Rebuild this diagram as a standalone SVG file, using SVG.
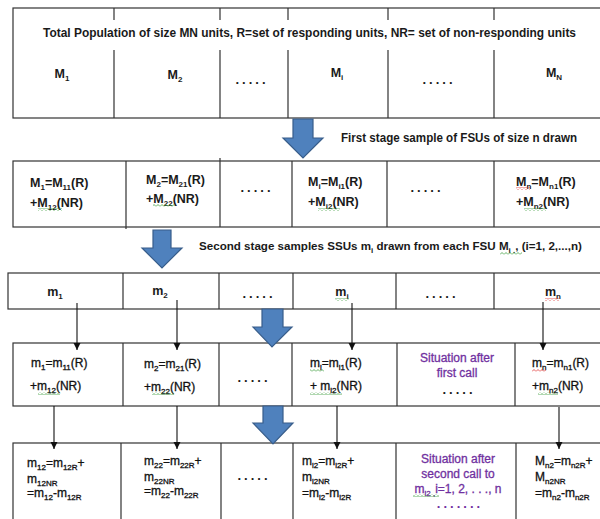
<svg xmlns="http://www.w3.org/2000/svg" width="600" height="519" viewBox="0 0 600 519">
<style>
.tb{fill:#fff;stroke:#333;stroke-width:1.2}
.dv{stroke:#333;stroke-width:1.2}
.b{font-family:'Liberation Sans',Arial,sans-serif;font-weight:bold;font-size:12.5px;fill:#1a1a1a}
.r{font-family:'Liberation Sans',Arial,sans-serif;font-size:12px;fill:#111;stroke:#111;stroke-width:0.3}
.p{fill:#7030A0;stroke:#7030A0}
.c{text-anchor:middle}
.s{font-size:8px}
.dots{font-family:'Liberation Sans',Arial,sans-serif;font-weight:bold;font-size:13px;fill:#1a1a1a;letter-spacing:3px;text-anchor:middle}
.blk{fill:#4F81BD;stroke:#385D8A;stroke-width:1.2}
.ln{stroke:#111;stroke-width:1.1;fill:none;marker-end:url(#ah)}
</style>
<defs>
<marker id="ah" markerUnits="userSpaceOnUse" markerWidth="8" markerHeight="8" refX="7" refY="4" orient="auto">
<path d="M0,0.5 L7,4 L0,7.5 Z" fill="#111"/>
</marker>
<pattern id="wg" width="4" height="3" patternUnits="userSpaceOnUse"><path d="M0,2.5 L2,0.5 L4,2.5" fill="none" stroke="#3a9a3a" stroke-width="0.8"/></pattern>
<pattern id="wr" width="4" height="3" patternUnits="userSpaceOnUse"><path d="M0,2.5 L2,0.5 L4,2.5" fill="none" stroke="#e03030" stroke-width="0.8"/></pattern>
</defs>

<g id="population">
<rect class="tb" x="13" y="8" width="590" height="110"/>
<path class="dv" d="M114,8V20M114,50V118M220,8V20M220,50V118M288,8V20M288,50V118M388,8V20M388,50V118M494,8V20M494,50V118"/>
<text class="b" x="43" y="37" textLength="533" lengthAdjust="spacingAndGlyphs">Total Population of size MN units, R=set of responding units, NR= set of non-responding units</text>
<text class="b c" x="62" y="78">M<tspan class="s" dy="3">1</tspan></text>
<text class="b c" x="175" y="79">M<tspan class="s" dy="3">2</tspan></text>
<text class="dots" x="252" y="84">.....</text>
<text class="b c" x="337" y="77">M<tspan class="s" dy="3">i</tspan></text>
<text class="dots" x="439" y="84">.....</text>
<text class="b c" x="554" y="77">M<tspan class="s" dy="3">N</tspan></text>
</g>

<g id="fsu-sample">
<rect class="tb" x="13" y="161" width="590" height="66"/>
<path class="dv" d="M126,161V229M220,158V227M292,161V227M387,161V227M494,161V227"/>
<text class="b" x="30" y="187">M<tspan class="s" dy="3">1</tspan><tspan dy="-3">=M</tspan><tspan class="s" dy="3">11</tspan><tspan dy="-3">(R)</tspan></text>
<text class="b" x="30" y="207">+M<tspan class="s" dy="3">12</tspan><tspan dy="-3">(NR)</tspan></text>
<text class="b" x="146" y="184">M<tspan class="s" dy="3">2</tspan><tspan dy="-3">=M</tspan><tspan class="s" dy="3">21</tspan><tspan dy="-3">(R)</tspan></text>
<text class="b" x="146" y="203">+M<tspan class="s" dy="3">22</tspan><tspan dy="-3">(NR)</tspan></text>
<text class="dots" x="257" y="192">.....</text>
<text class="b" x="308" y="186">M<tspan class="s" dy="3">i</tspan><tspan dy="-3">=M</tspan><tspan class="s" dy="3">i1</tspan><tspan dy="-3">(R)</tspan></text>
<text class="b" x="308" y="206">+M<tspan class="s" dy="3">i2</tspan><tspan dy="-3">(NR)</tspan></text>
<text class="dots" x="427" y="192">.....</text>
<text class="b" x="516" y="186">M<tspan class="s" dy="3">n</tspan><tspan dy="-3">=M</tspan><tspan class="s" dy="3">n1</tspan><tspan dy="-3">(R)</tspan></text>
<text class="b" x="516" y="206">+M<tspan class="s" dy="3">n2</tspan><tspan dy="-3">(NR)</tspan></text>
</g>

<g id="ssu-sample">
<rect class="tb" x="8" y="273" width="595" height="36"/>
<path class="dv" d="M123,273V309M219,273V309M293,273V309M396,273V309M494,273V309"/>
<text class="b c" x="55" y="296">m<tspan class="s" dy="3">1</tspan></text>
<text class="b c" x="160" y="295">m<tspan class="s" dy="3">2</tspan></text>
<text class="dots" x="259" y="298">.....</text>
<text class="b c" x="342" y="296">m<tspan class="s" dy="3">i</tspan></text>
<text class="dots" x="442" y="298">.....</text>
<text class="b c" x="553" y="296">m<tspan class="s" dy="3">n</tspan></text>
</g>

<g id="first-call">
<rect class="tb" x="13" y="343" width="590" height="63"/>
<path class="dv" d="M123,343V406M219,343V406M292,343V406M397,343V406M515,343V406"/>
<text class="r" x="31" y="367">m<tspan class="s" dy="3">1</tspan><tspan dy="-3">=m</tspan><tspan class="s" dy="3">11</tspan><tspan dy="-3">(R)</tspan></text>
<text class="r" x="30" y="390">+m<tspan class="s" dy="3">12</tspan><tspan dy="-3">(NR)</tspan></text>
<text class="r" x="144" y="368">m<tspan class="s" dy="3">2</tspan><tspan dy="-3">=m</tspan><tspan class="s" dy="3">21</tspan><tspan dy="-3">(R)</tspan></text>
<text class="r" x="144" y="391">+m<tspan class="s" dy="3">22</tspan><tspan dy="-3">(NR)</tspan></text>
<text class="dots" x="254" y="382">.....</text>
<text class="r" x="310" y="367">m<tspan class="s" dy="3">i</tspan><tspan dy="-3">=m</tspan><tspan class="s" dy="3">i1</tspan><tspan dy="-3">(R)</tspan></text>
<text class="r" x="310" y="390">+ m<tspan class="s" dy="3">i2</tspan><tspan dy="-3">(NR)</tspan></text>
<text class="r p c" x="457" y="362">Situation after</text>
<text class="r p c" x="457" y="377">first call</text>
<text class="dots" x="459" y="394">.....</text>
<text class="r" x="532" y="367">m<tspan class="s" dy="3">n</tspan><tspan dy="-3">=m</tspan><tspan class="s" dy="3">n1</tspan><tspan dy="-3">(R)</tspan></text>
<text class="r" x="532" y="390">+m<tspan class="s" dy="3">n2</tspan><tspan dy="-3">(NR)</tspan></text>
</g>

<g id="second-call">
<rect class="tb" x="13" y="443" width="590" height="90"/>
<path class="dv" d="M121,443V519M221,443V519M293,443V519M396,443V519M516,443V519"/>
<text class="r" x="27" y="467">m<tspan class="s" dy="3">12</tspan><tspan dy="-3">=m</tspan><tspan class="s" dy="3">12R</tspan><tspan dy="-3">+</tspan></text>
<text class="r" x="27" y="483">m<tspan class="s" dy="3">12NR</tspan></text>
<text class="r" x="27" y="497">=m<tspan class="s" dy="3">12</tspan><tspan dy="-3">-m</tspan><tspan class="s" dy="3">12R</tspan></text>
<text class="r" x="144" y="465">m<tspan class="s" dy="3">22</tspan><tspan dy="-3">=m</tspan><tspan class="s" dy="3">22R</tspan><tspan dy="-3">+</tspan></text>
<text class="r" x="144" y="481">m<tspan class="s" dy="3">22NR</tspan></text>
<text class="r" x="144" y="495">=m<tspan class="s" dy="3">22</tspan><tspan dy="-3">-m</tspan><tspan class="s" dy="3">22R</tspan></text>
<text class="dots" x="254" y="480">.....</text>
<text class="r" x="302" y="465">m<tspan class="s" dy="3">i2</tspan><tspan dy="-3">=m</tspan><tspan class="s" dy="3">i2R</tspan><tspan dy="-3">+</tspan></text>
<text class="r" x="302" y="481">m<tspan class="s" dy="3">i2NR</tspan></text>
<text class="r" x="302" y="497">=m<tspan class="s" dy="3">i2</tspan><tspan dy="-3">-m</tspan><tspan class="s" dy="3">i2R</tspan></text>
<text class="r p c" x="458" y="463">Situation after</text>
<text class="r p c" x="458" y="478">second call to</text>
<text class="r p c" x="458" y="493">m<tspan class="s" dy="3">i2 ,</tspan><tspan dy="-3">i=1, 2, . . ., n</tspan></text>
<text class="dots" x="460" y="508" style="fill:#7030A0">.......</text>
<text class="r" x="535" y="465">M<tspan class="s" dy="3">n2</tspan><tspan dy="-3">=m</tspan><tspan class="s" dy="3">n2R</tspan><tspan dy="-3">+</tspan></text>
<text class="r" x="535" y="481">M<tspan class="s" dy="3">n2NR</tspan></text>
<text class="r" x="535" y="497">=m<tspan class="s" dy="3">n2</tspan><tspan dy="-3">-m</tspan><tspan class="s" dy="3">n2R</tspan></text>
</g>

<g id="stage-labels">
<text class="b" x="341" y="142" textLength="236" lengthAdjust="spacingAndGlyphs">First stage sample of FSUs of size n drawn</text>
<text class="b" x="199" y="250" style="font-size:11.6px">Second stage samples SSUs m<tspan class="s" dy="3">i</tspan><tspan dy="-3"> drawn from each FSU M</tspan><tspan class="s" dy="3">i .</tspan><tspan dy="-3">, (i=1, 2,...,n)</tspan></text>
</g>

<g id="connectors">
<polygon class="blk" points="293,119 313,119 313,138 323,138 303,158 283,138 293,138"/>
<polygon class="blk" points="153,230 171,230 171,248 182,248 162,268 142,248 153,248"/>
<polygon class="blk" points="262,309 283,309 283,327 292,327 272,347 253,327 262,327"/>
<polygon class="blk" points="263,406 283,406 283,423 293,423 273,444 253,423 263,423"/>
<path class="ln" d="M77,303V350"/>
<path class="ln" d="M177,300V350"/>
<path class="ln" d="M352,303V350"/>
<path class="ln" d="M543,302V350"/>
<path class="ln" d="M54,406V449"/>
<path class="ln" d="M177,406V449"/>
<path class="ln" d="M337,406V449"/>
<path class="ln" d="M559,407V449"/>
</g>

<g id="spellcheck">
<rect x="38" y="208" width="24" height="3" fill="url(#wg)"/>
<rect x="153" y="204" width="22" height="3" fill="url(#wg)"/>
<rect x="318" y="208" width="22" height="3" fill="url(#wg)"/>
<rect x="516" y="187" width="14" height="3" fill="url(#wr)"/>
<rect x="524" y="208" width="22" height="3" fill="url(#wg)"/>
<rect x="500" y="252" width="22" height="3" fill="url(#wg)"/>
<rect x="335" y="298" width="14" height="3" fill="url(#wg)"/>
<rect x="545" y="298" width="14" height="3" fill="url(#wr)"/>
<rect x="38" y="392" width="22" height="3" fill="url(#wg)"/>
<rect x="152" y="392" width="22" height="3" fill="url(#wg)"/>
<rect x="310" y="369" width="14" height="3" fill="url(#wg)"/>
<rect x="310" y="392" width="32" height="3" fill="url(#wg)"/>
<rect x="532" y="369" width="14" height="3" fill="url(#wr)"/>
<rect x="538" y="392" width="20" height="3" fill="url(#wg)"/>
<rect x="413" y="494" width="26" height="3" fill="url(#wg)"/>
</g>
</svg>
